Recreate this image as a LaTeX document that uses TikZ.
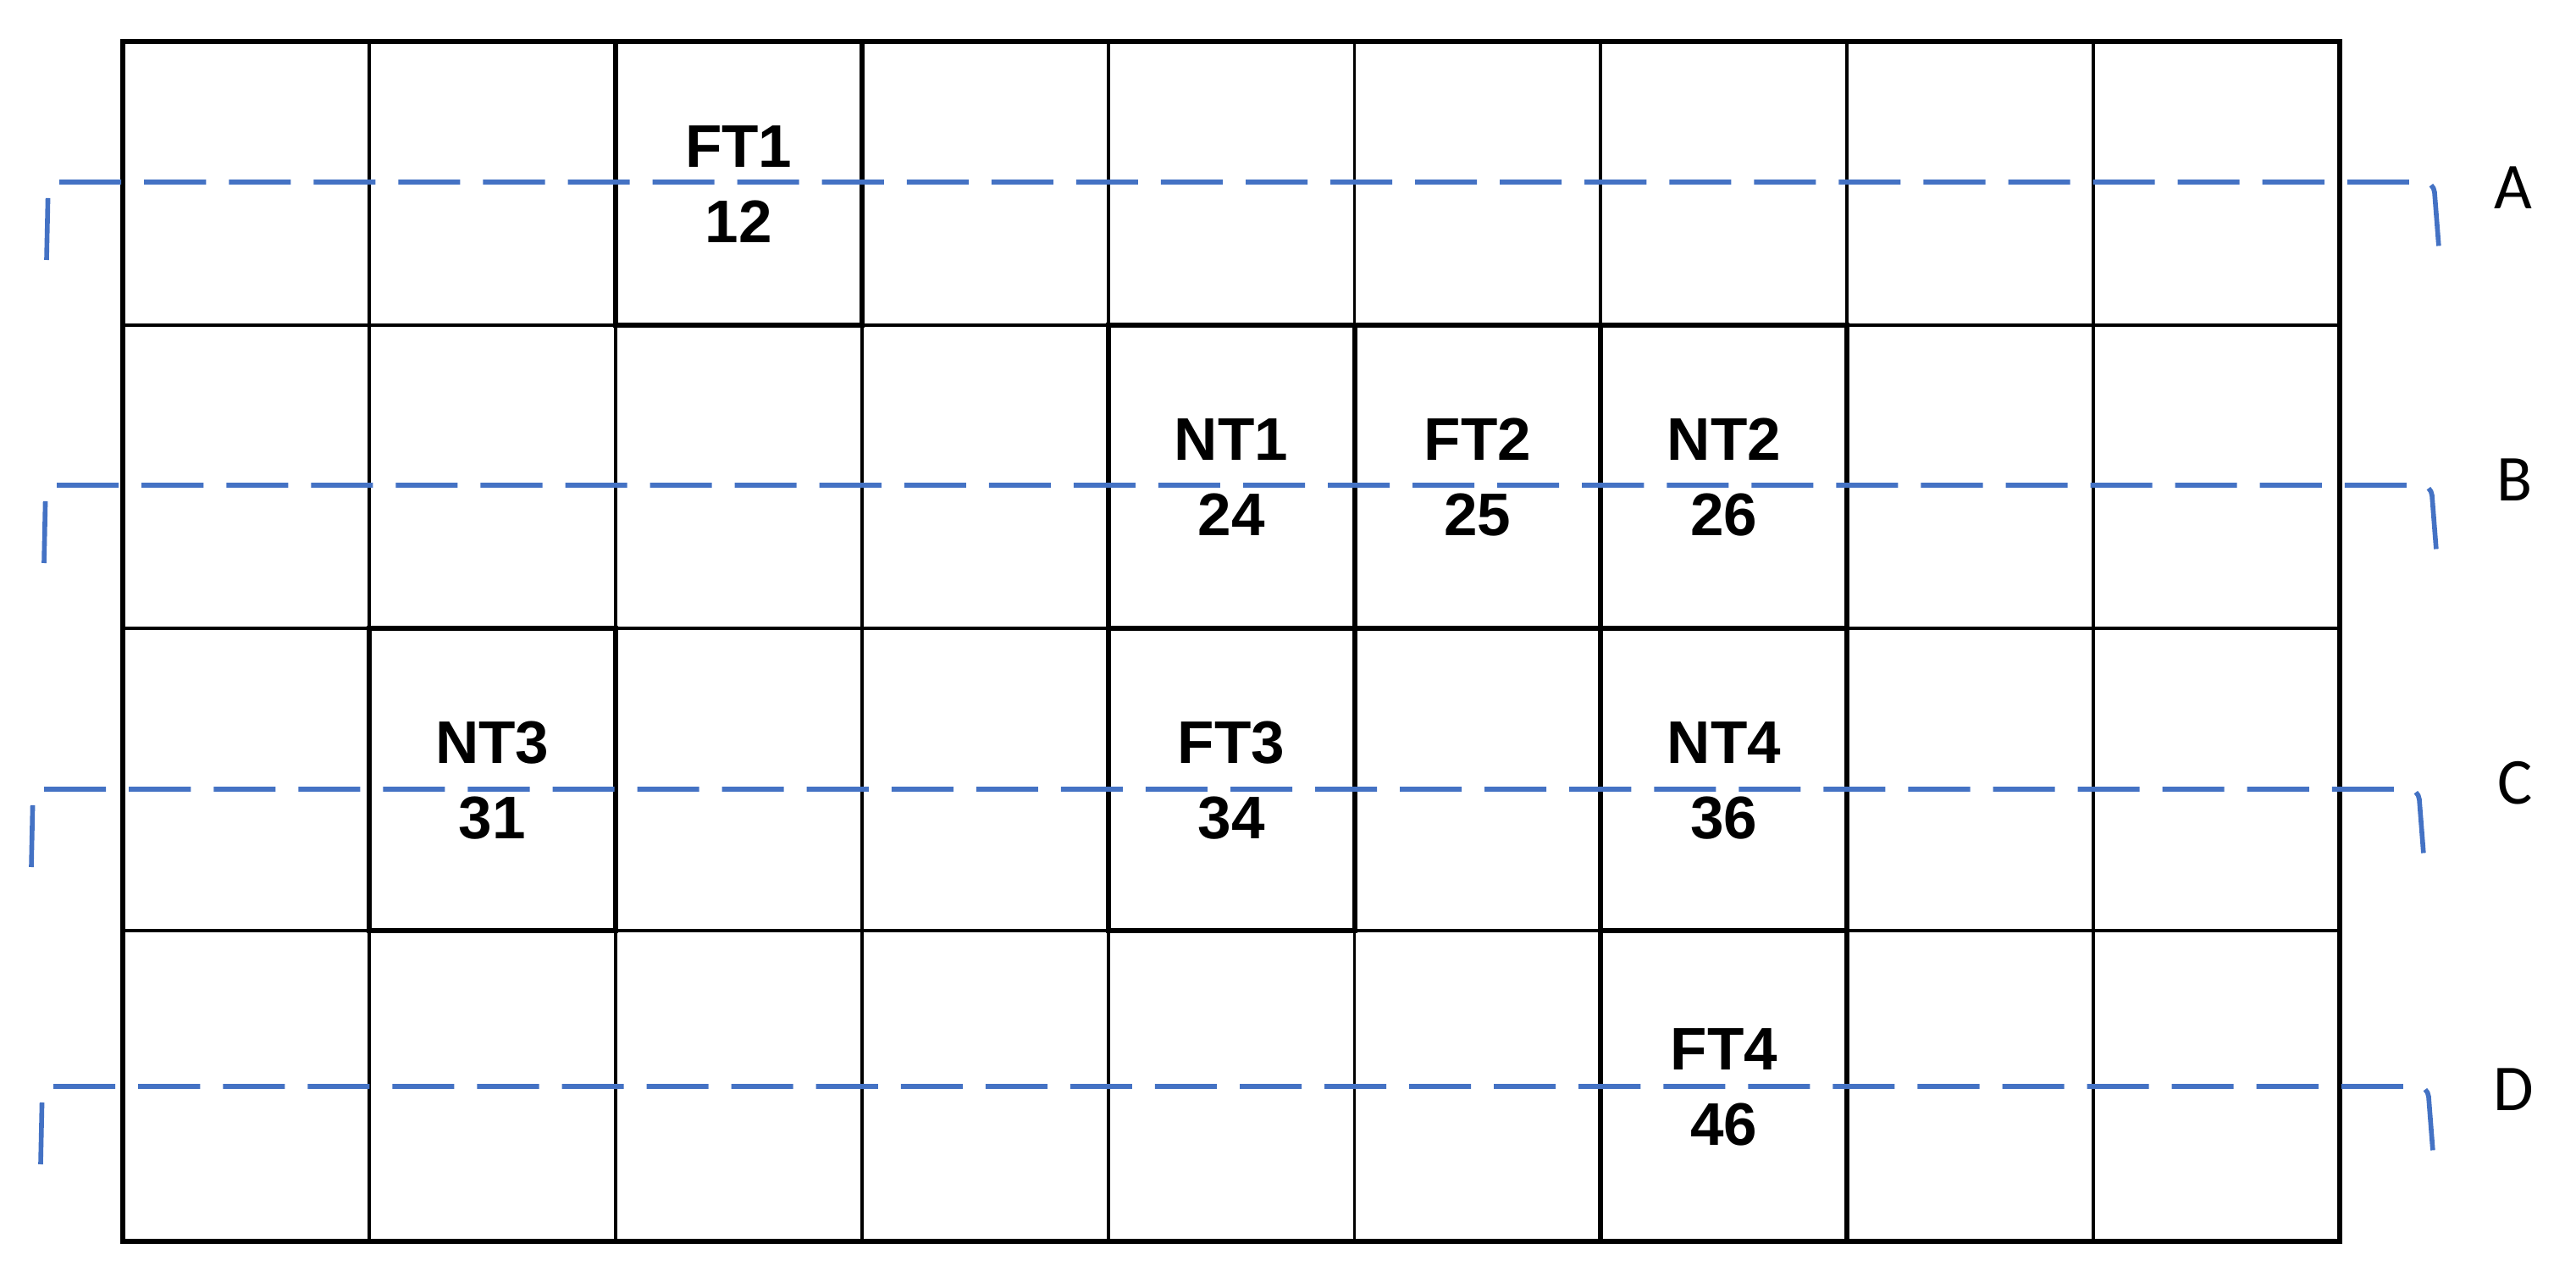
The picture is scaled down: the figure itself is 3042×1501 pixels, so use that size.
\documentclass[tikz,border=0pt]{standalone}
\usepackage{fontspec}
\setmainfont{Liberation Sans}
\newfontfamily\carlitofont{Carlito}
\definecolor{dashblue}{RGB}{68,114,196}
\begin{document}
\begin{tikzpicture}[x=0.01cm,y=-0.01cm,
  thinline/.style={line width=1.1pt,black},
  thickline/.style={line width=1.7pt,black,line join=miter},
  rowdash/.style={line width=1.6pt,dashblue,dash pattern=on 0.73cm off 0.27cm,rounded corners=0.12cm},
  celltext/.style={inner sep=0pt,align=center,font=\bfseries\fontsize{20.2}{25.3}\selectfont},
  rowlabel/.style={inner sep=0pt,font=\carlitofont\fontsize{22}{26}\selectfont}]
\useasboundingbox (0,0) rectangle (3042,1501);
% thin grid lines
\foreach \i in {1,...,8} {
  \draw[thinline] ({145+\i*290.9},49) -- ({145+\i*290.9},1466);
}
\foreach \yy in {384,742,1099} {
  \draw[thinline] (145,\yy) -- (2763,\yy);
}
% thick cell borders
\draw[thickline] (726.8,49) rectangle (1017.7,384);
\draw[thickline] (1308.6,384) rectangle (1599.5,742);
\draw[thickline] (1599.5,384) rectangle (1890.4,742);
\draw[thickline] (1890.4,384) rectangle (2181.3,742);
\draw[thickline] (435.9,742) rectangle (726.8,1099);
\draw[thickline] (1308.6,742) rectangle (1599.5,1099);
\draw[thickline] (1890.4,742) rectangle (2181.3,1099);
\draw[thickline] (1890.4,1099) rectangle (2181.3,1466);
% outer frame
\draw[thickline] (145,49) rectangle (2763,1466);
% cell labels
\node[celltext] (ft1) at (872.25,217.5) {FT1\\12};
\node[celltext] (nt1) at (1454.05,564) {NT1\\24};
\node[celltext] (ft2) at (1744.95,564) {FT2\\25};
\node[celltext] (nt2) at (2035.85,564) {NT2\\26};
\node[celltext] (nt3) at (581.35,921.5) {NT3\\31};
\node[celltext] (ft3) at (1454.05,921.5) {FT3\\34};
\node[celltext] (nt4) at (2035.85,921.5) {NT4\\36};
\node[celltext] (ft4) at (2035.85,1283.5) {FT4\\46};
% dashed row brackets
\foreach \xa/\ya in {64/215,61/573,46/932,57/1283} {
  \draw[rowdash] ({\xa-9},{\ya+92}) -- ({\xa-7},\ya) -- ({\xa+2810},\ya) -- ({\xa+2817},{\ya+90});
}
% row labels
\node[rowlabel] (la) at (2968,222) {A};
\node[rowlabel] (lb) at (2970,567) {B};
\node[rowlabel] (lc) at (2970,925) {C};
\node[rowlabel] (ld) at (2968,1287) {D};
\end{tikzpicture}
\end{document}
